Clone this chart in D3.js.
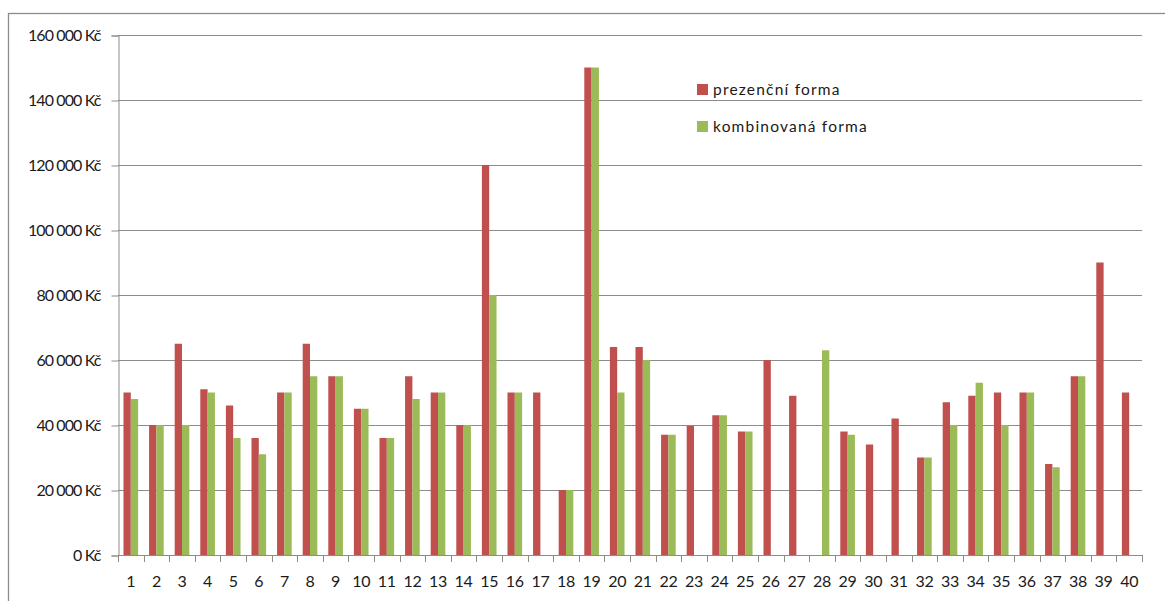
<!DOCTYPE html>
<html><head><meta charset="utf-8">
<script src="https://cdn.jsdelivr.net/npm/d3@7"></script>
<style>body{margin:0;background:#fff}svg{display:block}text{font-family:Lato,"Open Sans",sans-serif;fill:#1a1a1a}</style>
</head><body><svg id="c" width="1165" height="601"></svg>
<script>
const categories = d3.range(1, 41).map(String);
const prezencni = [50000,40000,65000,51000,46000,36000,50000,65000,55000,45000,36000,55000,50000,40000,120000,50000,50000,20000,150000,64000,64000,37000,39700,43000,38000,60000,49000,0,38000,34000,42000,30000,47000,49000,50000,50000,28000,55000,90000,50000];
const kombinovana = [48000,40000,40000,50000,36000,31000,50000,55000,55000,45000,36000,48000,50000,40000,80000,50000,0,20000,150000,50000,60000,37000,0,43000,38000,0,0,63000,37000,0,0,30000,40000,53000,40000,50000,27000,55000,0,0];
const yTicks = [0,20000,40000,60000,80000,100000,120000,140000,160000];
const seriesNames = ["prezenční forma","kombinovaná forma"];
const colors = ["#C0504D","#9BBB59"];

const svg = d3.select("#c");
const L=118, R=1142, T=35, B=555;
svg.append("rect").attr("x",8.5).attr("y",13.5).attr("width",1300).attr("height",700)
  .attr("fill","none").attr("stroke","#8c8c8c").attr("stroke-width",1.3);

const x = d3.scaleBand().domain(categories).range([L,R]).paddingInner(0).paddingOuter(0);
const y = d3.scaleLinear().domain([0,160000]).range([B,T]);
const bw = x.bandwidth()/3.5;
const fmt = v => d3.format(",")(v).replace(/,/g," ") + " Kč";

// gridlines
svg.append("g").selectAll("line").data(yTicks.slice(1)).join("line")
  .attr("x1",L).attr("x2",R).attr("y1",d=>Math.round(y(d))+0.5).attr("y2",d=>Math.round(y(d))+0.5)
  .attr("stroke","#8c8c8c").attr("stroke-width",1);

// y axis
const ya = d3.axisLeft(y).tickValues(yTicks).tickFormat(fmt).tickSize(7).tickPadding(11);
const yg = svg.append("g").attr("transform",`translate(${L+0.5},0.5)`).call(ya);
yg.select(".domain").attr("stroke","#8c8c8c");
yg.selectAll(".tick line").attr("stroke","#8c8c8c");
yg.selectAll("text").attr("font-size",16).attr("letter-spacing","-0.9px").attr("fill","#1a1a1a")
  .attr("font-family","Lato,sans-serif").attr("dy","0.34em");

// bars
const series = [prezencni, kombinovana];
series.forEach((vals,si)=>{
  svg.append("g").selectAll("rect").data(vals).join("rect")
    .attr("x",(d,i)=>x(categories[i]) + bw*0.75 + si*bw)
    .attr("width",bw)
    .attr("y",d=>y(d)).attr("height",d=>B-y(d))
    .attr("fill",colors[si]);
});

// x axis
svg.append("line").attr("x1",L).attr("x2",R).attr("y1",B+0.5).attr("y2",B+0.5).attr("stroke","#8c8c8c");
svg.append("g").selectAll("line").data(d3.range(categories.length+1)).join("line")
  .attr("x1",i=>Math.round(L+i*x.step())+0.5).attr("x2",i=>Math.round(L+i*x.step())+0.5)
  .attr("y1",B).attr("y2",B+7).attr("stroke","#8c8c8c");
svg.append("g").selectAll("text").data(categories).join("text")
  .attr("x",d=>x(d)+x.bandwidth()/2).attr("y",587).attr("text-anchor","middle")
  .attr("font-size",16).attr("letter-spacing","-0.3px").text(d=>d);

// legend
const lg = svg.append("g");
seriesNames.forEach((n,i)=>{
  lg.append("rect").attr("x",697).attr("y",84+i*37).attr("width",11).attr("height",11).attr("fill",colors[i]);
  lg.append("text").attr("x",713).attr("y",95+i*37).attr("font-size",15.5).attr("letter-spacing","1.2px").text(n);
});
</script></body></html>
